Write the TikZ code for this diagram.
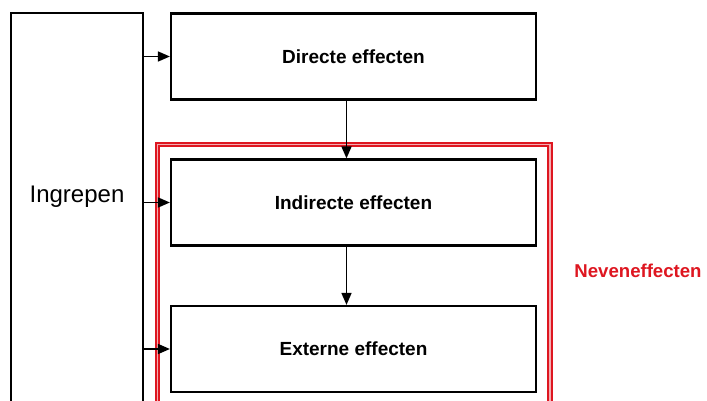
\documentclass[tikz,border=0pt]{standalone}
\usepackage{fontspec}
\setmainfont{Liberation Sans}
\usetikzlibrary{arrows.meta,positioning}
\definecolor{nevred}{RGB}{222,22,32}
\begin{document}
\begin{tikzpicture}[x=1pt,y=-1pt,
  effbox/.style={draw=black,line width=2.2pt,rectangle,minimum width=365pt,minimum height=86pt,inner sep=0pt,font=\bfseries\fontsize{19}{22}\selectfont},
  conn/.style={line width=1.6pt,-{Triangle[length=12pt,width=10pt]}}]
\useasboundingbox (0,0) rectangle (707,401);
\clip (0,0) rectangle (707,401);
\fill[white] (0,0) rectangle (707,401);
% Ingrepen column
\node[draw=black,line width=2.2pt,rectangle,inner sep=0pt,minimum width=132pt,minimum height=440pt] (ing) at (77,233) {};
\node[font=\fontsize{24}{28}\selectfont] (ingt) at (77,197) {Ingrepen};
% red frame
\node[draw=nevred,line width=2pt,double=nevred!35,double distance=1.2pt,rectangle,inner sep=0pt,minimum width=392.3pt,minimum height=300pt] (nev) at (353.85,294.7) {};
\node[font=\bfseries\fontsize{18.6}{22}\selectfont,text=nevred] (nevt) at (638,271) {Neveneffecten};
% effect boxes
\node[effbox] (dir) at (353.5,56.5) {Directe effecten};
\node[effbox] (ind) at (353.5,202.5) {Indirecte effecten};
\node[effbox] (ext) at (353.5,349) {Externe effecten};
% connectors
\draw[conn] (ing.east |- dir.west) -- (dir.west);
\draw[conn] (ing.east |- ind.west) -- (ind.west);
\draw[conn] (ing.east |- ext.west) -- (ext.west);
\draw[conn] (dir.south -| 346.5,0) -- (ind.north -| 346.5,0);
\draw[conn] (ind.south -| 346.5,0) -- (ext.north -| 346.5,0);
\end{tikzpicture}
\end{document}
